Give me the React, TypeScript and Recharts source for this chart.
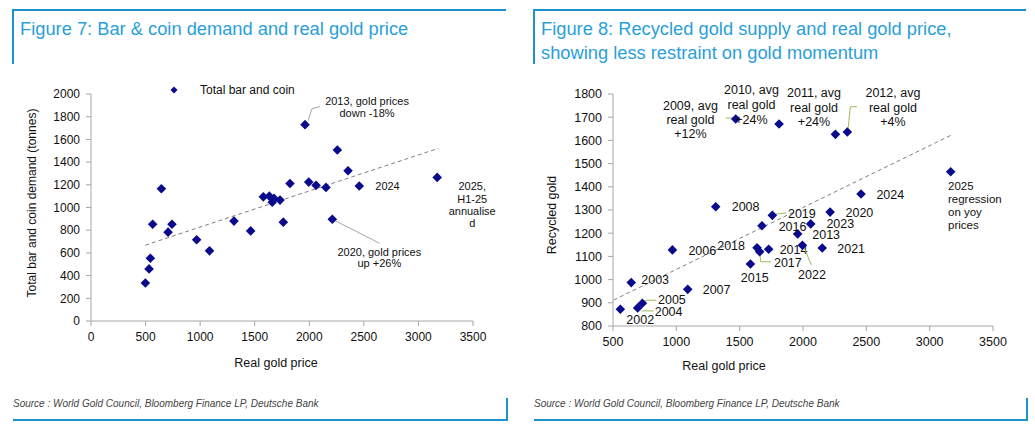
import { ScatterChart, Scatter, XAxis, YAxis, ReferenceLine } from 'recharts'

// Figure 7: bar & coin demand vs real gold price
const leftPrice = [498, 532, 544, 565, 645, 706, 742, 968, 1086, 1310, 1463, 1579, 1634, 1661, 1677, 1732, 1762, 1823, 1961, 1995, 2062, 2153, 2211, 2257, 2355, 2458, 3172]
const leftDemand = [335, 459, 553, 853, 1165, 783, 853, 716, 618, 880, 794, 1094, 1100, 1047, 1080, 1065, 871, 1212, 1730, 1224, 1195, 1177, 897, 1506, 1324, 1189, 1265]
const leftTags = ['', '', '', '', '', '', '', '', '', '', '', '', '', '', '', '', '', '', '2013', '', '', '', '2020', '', '', '2024', '2025']
const leftTrend = [{ x: 497, y: 668 }, { x: 3182, y: 1521 }]
const leftXTicks = [0, 500, 1000, 1500, 2000, 2500, 3000, 3500]
const leftYTicks = [0, 200, 400, 600, 800, 1000, 1200, 1400, 1600, 1800, 2000]

// Figure 8: recycled gold supply vs real gold price
const rightYears = ['2002', '2003', '2004', '2005', '2006', '2007', '2008', '2009', '2010', '2011', '2012', '2013', '2014', '2015', '2016', '2017', '2018', '2019', '2020', '2021', '2022', '2023', '2024', '2025']
const rightPrice = [558, 644, 695, 732, 969, 1090, 1311, 1469, 1811, 2256, 2350, 1958, 1729, 1585, 1676, 1658, 1637, 1758, 2214, 2152, 1995, 2061, 2458, 3166]
const rightRecycled = [872, 987, 878, 898, 1128, 958, 1314, 1692, 1671, 1626, 1636, 1197, 1131, 1067, 1232, 1120, 1137, 1277, 1291, 1136, 1148, 1240, 1369, 1465]
const rightTrend = [{ x: 505, y: 912 }, { x: 3171, y: 1623 }]
const rightXTicks = [500, 1000, 1500, 2000, 2500, 3000, 3500]
const rightYTicks = [800, 900, 1000, 1100, 1200, 1300, 1400, 1500, 1600, 1700, 1800]

const FONT = '"Liberation Sans", Arial, sans-serif'
const NAVY = '#0a0a8c'
const FRAME = '#1d93cd'
const TITLE = '#2a9fd8'
const AXIS = '#a6a6a6'

type Label = { lines: string[]; dx: number; dy: number; anchor?: 'start' | 'middle' | 'end'; lh?: number; fs?: number; leader?: number[][] }

const leftLabels: Record<string, Label> = {
  '2013': { lines: ['2013, gold prices', 'down -18%'], dx: 62, dy: -20, anchor: 'middle', lh: 12.4, leader: [[3, -4], [7, -16], [15, -18]] },
  '2020': { lines: ['2020, gold prices', 'up +26%'], dx: 47, dy: 36.5, anchor: 'middle', lh: 11.7, leader: [[2, 1], [47, 24]] },
  '2024': { lines: ['2024'], dx: 16, dy: 4 },
  '2025': { lines: ['2025,', 'H1-25', 'annualise', 'd'], dx: 35, dy: 12.7, anchor: 'middle', lh: 12.4 },
}

const rightLabels: Record<string, Label> = {
  '2002': { lines: ['2002'], dx: 6, dy: 15 },
  '2003': { lines: ['2003'], dx: 10, dy: 1 },
  '2004': { lines: ['2004'], dx: 17, dy: 8.5, leader: [[4, 3], [16, 3]] },
  '2005': { lines: ['2005'], dx: 15.6, dy: 1, leader: [[2, -2], [5, -3], [14, -3]] },
  '2006': { lines: ['2006'], dx: 16, dy: 5 },
  '2007': { lines: ['2007'], dx: 15, dy: 4.5 },
  '2008': { lines: ['2008'], dx: 16, dy: 4.5 },
  '2009': { lines: ['2009, avg', 'real gold', '+12%'], dx: -45.3, dy: -9.5, anchor: 'middle', lh: 14, leader: [[-10, -1], [-4, -1]] },
  '2010': { lines: ['2010, avg', 'real gold', '+24%'], dx: -27.6, dy: -29.5, anchor: 'middle', lh: 14.7 },
  '2011': { lines: ['2011, avg', 'real gold', '+24%'], dx: -21.4, dy: -37.1, anchor: 'middle', lh: 14.5 },
  '2012': { lines: ['2012, avg', 'real gold', '+4%'], dx: 45.6, dy: -34.8, anchor: 'middle', lh: 14.5, leader: [[0.6, -2], [3, -25.3], [9.6, -25.3]] },
  '2013': { lines: ['2013'], dx: 14.6, dy: 5 },
  '2014': { lines: ['2014'], dx: 11, dy: 4.5 },
  '2015': { lines: ['2015'], dx: 4.3, dy: 17.8, anchor: 'middle' },
  '2016': { lines: ['2016'], dx: 16.7, dy: 4.8 },
  '2017': { lines: ['2017'], dx: 14.3, dy: 15.5, leader: [[0, 0], [1, 10], [11.7, 10]] },
  '2018': { lines: ['2018'], dx: -12, dy: 1.8, anchor: 'end' },
  '2019': { lines: ['2019'], dx: 15.6, dy: 2.5, leader: [[2, -1], [14, -2.5]] },
  '2020': { lines: ['2020'], dx: 15.4, dy: 5.2 },
  '2021': { lines: ['2021'], dx: 15, dy: 5.2 },
  '2022': { lines: ['2022'], dx: 9.6, dy: 34.2, anchor: 'middle', leader: [[1.3, 1.4], [9, 19.7]] },
  '2023': { lines: ['2023'], dx: 15.7, dy: 4.5 },
  '2024': { lines: ['2024'], dx: 15.4, dy: 4.8 },
  '2025': { lines: ['2025', 'regression', 'on yoy', 'prices'], dx: -2.7, dy: 18.3, lh: 13.1, fs: 11.5 },
}

const leftData = leftPrice.map((x, i) => ({ x, y: leftDemand[i], tag: leftTags[i] }))
const rightData = rightPrice.map((x, i) => ({ x, y: rightRecycled[i], tag: rightYears[i] }))

function diamondShape(labels: Record<string, Label>, leaderColor: string, fontSize: number) {
  return (props: any) => {
    const { cx, cy, payload } = props
    const r = 4.8
    const lab = labels[payload?.tag]
    return (
      <g>
        {lab?.leader && (
          <polyline
            points={lab.leader.map((p) => `${cx + p[0]},${cy + p[1]}`).join(' ')}
            fill="none"
            stroke={leaderColor}
            strokeWidth={1}
          />
        )}
        <polygon points={`${cx},${cy - r} ${cx + r},${cy} ${cx},${cy + r} ${cx - r},${cy}`} fill={NAVY} />
        {lab && (
          <text x={cx + lab.dx} y={cy + lab.dy} textAnchor={lab.anchor ?? 'start'} fontSize={lab.fs ?? fontSize} fontFamily={FONT} fill="#111">
            {lab.lines.map((l, k) => (
              <tspan key={k} x={cx + lab.dx} dy={k === 0 ? 0 : lab.lh ?? 12}>{l}</tspan>
            ))}
          </text>
        )}
      </g>
    )
  }
}

const tickStyle = (fs: number) => ({ fontSize: fs, fill: '#111', fontFamily: FONT })

function Frame({ left, width, title }: { left: number; width: number; title: string[] }) {
  return (
    <>
      <div style={{ position: 'absolute', left, top: 9, width: width, height: 2, background: FRAME }} />
      <div style={{ position: 'absolute', left, top: 9, width: 2, height: 55, background: FRAME }} />
      <div style={{ position: 'absolute', left: left + 8, top: 17, fontFamily: FONT, fontSize: 18.3, lineHeight: '24px', color: TITLE, whiteSpace: 'nowrap' }}>
        {title.map((t, i) => <div key={i}>{t}</div>)}
      </div>
      <div style={{ position: 'absolute', left: left + 1, top: 398, fontFamily: FONT, fontSize: 10, fontStyle: 'italic', lineHeight: '12px', color: '#444', whiteSpace: 'nowrap' }}>
        Source : World Gold Council, Bloomberg Finance LP, Deutsche Bank
      </div>
      <div style={{ position: 'absolute', left: left + 1, top: 419, width: width + 1, height: 2, background: FRAME }} />
      <div style={{ position: 'absolute', left: left + width, top: 398, width: 2, height: 23, background: FRAME }} />
    </>
  )
}

function AxisTitle({ cx, cy, text, rotate, fs }: { cx: number; cy: number; text: string; rotate?: boolean; fs: number }) {
  const w = 260
  return (
    <div style={{ position: 'absolute', left: cx - w / 2, top: cy - 8, width: w, height: 16, lineHeight: '16px', textAlign: 'center', fontFamily: FONT, fontSize: fs, color: '#111', transform: rotate ? 'rotate(-90deg)' : undefined, whiteSpace: 'nowrap' }}>
      {text}
    </div>
  )
}

export default function App() {
  return (
    <div style={{ position: 'absolute', left: 0, top: 0, width: 1035, height: 428, background: '#fff', overflow: 'hidden' }}>
      <Frame left={12} width={494} title={['Figure 7: Bar & coin demand and real gold price']} />
      <Frame left={533} width={493} title={['Figure 8: Recycled gold supply and real gold price,', 'showing less restraint on gold momentum']} />

      <div style={{ position: 'absolute', left: 0, top: 0 }}>
        <ScatterChart width={520} height={428} margin={{ top: 94, right: 47, bottom: 77, left: 31 }}>
          <XAxis type="number" dataKey="x" domain={[0, 3500]} ticks={leftXTicks} tickSize={5} tickMargin={6} height={30} axisLine={{ stroke: AXIS }} tickLine={{ stroke: AXIS }} tick={tickStyle(12)} />
          <YAxis type="number" dataKey="y" domain={[0, 2000]} ticks={leftYTicks} tickSize={5} tickMargin={6} width={60} axisLine={{ stroke: AXIS }} tickLine={{ stroke: AXIS }} tick={tickStyle(12)} />
          <ReferenceLine segment={leftTrend} stroke="#808080" strokeDasharray="4 3" ifOverflow="visible" />
          <Scatter data={leftData} isAnimationActive={false} shape={diamondShape(leftLabels, '#a6a6a6', 11)} />
        </ScatterChart>
      </div>

      <div style={{ position: 'absolute', left: 520, top: 0 }}>
        <ScatterChart width={515} height={428} margin={{ top: 94, right: 42, bottom: 72, left: 33 }}>
          <XAxis type="number" dataKey="x" domain={[500, 3500]} ticks={rightXTicks} tickSize={5} tickMargin={6} height={30} axisLine={{ stroke: AXIS }} tickLine={{ stroke: AXIS }} tick={tickStyle(12.5)} />
          <YAxis type="number" dataKey="y" domain={[800, 1800]} ticks={rightYTicks} tickSize={5} tickMargin={6} width={60} axisLine={{ stroke: AXIS }} tickLine={{ stroke: AXIS }} tick={tickStyle(12.5)} />
          <ReferenceLine segment={rightTrend} stroke="#808080" strokeDasharray="4 3" ifOverflow="visible" />
          <Scatter data={rightData} isAnimationActive={false} shape={diamondShape(rightLabels, '#9bbb59', 12.5)} />
        </ScatterChart>
      </div>

      {/* legend, left chart */}
      <svg style={{ position: 'absolute', left: 170, top: 86 }} width={8} height={8}>
        <polygon points="4,0.5 7.5,4 4,7.5 0.5,4" fill={NAVY} />
      </svg>
      <div style={{ position: 'absolute', left: 200, top: 82, fontFamily: FONT, fontSize: 12, lineHeight: '16px', color: '#111', whiteSpace: 'nowrap' }}>Total bar and coin</div>

      <AxisTitle cx={276} cy={363} text="Real gold price" fs={12.5} />
      <AxisTitle cx={32} cy={203} text="Total bar and coin demand (tonnes)" rotate fs={12} />
      <AxisTitle cx={724} cy={366} text="Real gold price" fs={12.5} />
      <AxisTitle cx={552} cy={215} text="Recycled gold" rotate fs={12.5} />
    </div>
  )
}
